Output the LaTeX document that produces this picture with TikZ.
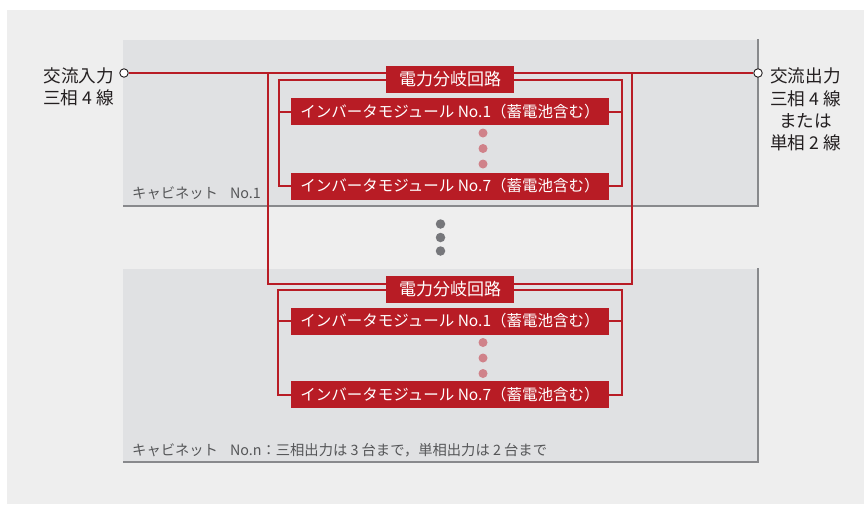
\documentclass[tikz,border=0pt]{standalone}
\usepackage{fontspec}
\setmainfont{Noto Sans CJK JP}
\usetikzlibrary{positioning}
\definecolor{panel}{HTML}{EEEEEE}
\definecolor{cab}{HTML}{E0E1E3}
\definecolor{cabedge}{HTML}{88898C}
\definecolor{wred}{HTML}{B81C25}
\definecolor{pinkdot}{HTML}{D0828A}
\definecolor{graydot}{HTML}{76777B}
\definecolor{ink}{HTML}{231F20}
\definecolor{cabink}{HTML}{555658}
\pgfdeclarelayer{bg}
\pgfdeclarelayer{wires}
\pgfsetlayers{bg,wires,main}
\tikzset{
  wire/.style={draw=wred, line width=2pt},
  mainwire/.style={draw=wred, line width=2.4pt},
  modbox/.style={fill=wred, text=white, minimum width=318pt, minimum height=27pt, inner sep=0pt, font=\fontsize{15.5}{18}\selectfont},
  branchbox/.style={fill=wred, text=white, minimum width=128pt, minimum height=27pt, inner sep=0pt, font=\fontsize{17}{20}\selectfont},
  term/.style={circle, draw=ink, fill=white, line width=0.9pt, minimum size=8.5pt, inner sep=0pt},
  sidelbl/.style={text=ink, inner sep=0pt, font=\fontsize{17.6}{22.3}\selectfont},
  cablbl/.style={text=cabink, inner sep=0pt, anchor=west, font=\fontsize{14.3}{16}\selectfont},
  cabshade/.style={draw=cabedge, line width=1.8pt},
  pdot/.style={circle, fill=pinkdot, minimum size=9pt, inner sep=0pt},
  gdot/.style={circle, fill=graydot, minimum size=9.5pt, inner sep=0pt}
}
\begin{document}
\begin{tikzpicture}[x=1pt,y=-1pt]
\useasboundingbox (0,0) rectangle (864,504);
\begin{pgfonlayer}{bg}
  \fill[white] (0,0) rectangle (864,504);
  \fill[panel] (7,10) rectangle (864,504);
  \fill[cab] (123,40) rectangle (758,206);
  \draw[cabshade] (123,206) -- (758,206) -- (758,39);
  \fill[cab] (123,269) rectangle (758,462);
  \draw[cabshade] (123,462) -- (758,462) -- (758,268);
\end{pgfonlayer}

% terminals and labels
\node[term] (in) at (124,73) {};
\node[term] (out) at (758,73) {};
\node[sidelbl, align=right, anchor=east] (inlbl) at (114,86.5) {交流入力\\三相 4 線};
\node[sidelbl, align=center] (outlbl) at (805.5,109.5) {交流出力\\三相 4 線\\または\\単相 2 線};

% cabinet 1
\node[branchbox] (b1) at (450,79.5) {電力分岐回路};
\node[modbox] (m11) at (450,111.5) {インバータモジュール No.1（蓄電池含む）};
\node[modbox] (m17) at (450,186) {インバータモジュール No.7（蓄電池含む）};
\node[pdot] (p11) at (483,133) {};
\node[pdot] (p12) at (483,148.5) {};
\node[pdot] (p13) at (483,164) {};
\node[cablbl] (c1lbl) at (132,193) {キャビネット\hspace{12pt}No.1};

% between cabinets
\node[gdot] (g1) at (440.5,224) {};
\node[gdot] (g2) at (440.5,237.5) {};
\node[gdot] (g3) at (440.5,251) {};

% cabinet 2
\node[branchbox] (b2) at (450,289.5) {電力分岐回路};
\node[modbox] (m21) at (450,321) {インバータモジュール No.1（蓄電池含む）};
\node[modbox] (m27) at (450,394.5) {インバータモジュール No.7（蓄電池含む）};
\node[pdot] (p21) at (483,342.5) {};
\node[pdot] (p22) at (483,358) {};
\node[pdot] (p23) at (483,373.5) {};
\node[cablbl] (c2lbl) at (132,450.5) {キャビネット\hspace{12pt}No.n：三相出力は 3 台まで，単相出力は 2 台まで};

% wiring coordinates
\coordinate (tapL) at (268,73);
\coordinate (tapR) at (632,73);
\coordinate (bigBL) at (268,284);
\coordinate (bigBR) at (632,284);
\coordinate (c1TL) at (279,80);
\coordinate (c1TR) at (622,80);
\coordinate (c2TL) at (278,290);
\coordinate (c2TR) at (622,290);

\begin{pgfonlayer}{wires}
  \draw[mainwire] (in) -- (out);
  \draw[wire] (tapL) -- (bigBL) -- (bigBR) -- (tapR);
  \draw[wire] (m17.west) -| (c1TL) -- (c1TR) |- (m17.east);
  \draw[wire] (m11.west) -- (m11.west -| c1TL);
  \draw[wire] (m11.east) -- (m11.east -| c1TR);
  \draw[wire] (m27.west) -| (c2TL) -- (c2TR) |- (m27.east);
  \draw[wire] (m21.west) -- (m21.west -| c2TL);
  \draw[wire] (m21.east) -- (m21.east -| c2TR);
\end{pgfonlayer}
\end{tikzpicture}
\end{document}
